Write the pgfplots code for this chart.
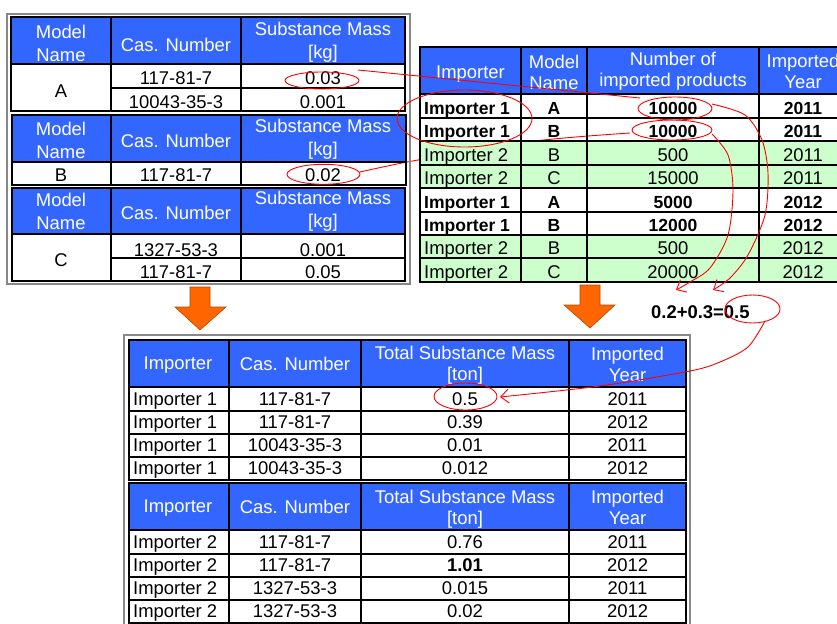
\documentclass[border=0pt]{standalone}
\usepackage{pgfplots}
\pgfplotsset{compat=1.18}
\usepackage{fontspec}
\setmainfont{Liberation Sans}
\usetikzlibrary{arrows.meta}
\definecolor{hblue}{HTML}{3366FF}
\definecolor{lgreen}{HTML}{CCFFCC}
\definecolor{aorange}{HTML}{FF6600}
\definecolor{ared}{HTML}{FF0000}
\definecolor{fgray}{HTML}{888888}

\newcommand{\fs}{\fontsize{18.5}{23}\selectfont}
\newcommand{\fsb}{\fontsize{17.6}{21}\selectfont\bfseries}
\newcommand{\fsr}{\fontsize{18.5}{21}\selectfont}

\tikzset{
  hd/.style={white, align=center, font=\fs, inner sep=0pt},
  hdr/.style={white, align=center, font=\fsr, inner sep=0pt},
  tx/.style={black, anchor=base, font=\fs, inner sep=0pt},
  txl/.style={tx, anchor=base west},
  txb/.style={tx, font=\fsb},
  gridl/.style={black, line width=1.2pt},
  frame/.style={black, line width=2.2pt},
  ell/.style={ared, line width=0.9pt},
  rl/.style={ared, line width=0.9pt, mark=none},
}

% right table row: baseline, style, importer, model, number, year
\newcommand{\rrow}[6]{%
  \node[#2, anchor=base west] at (424,#1) {#3};
  \node[#2] at (554,#1) {#4};
  \node[#2] at (673,#1) {#5};
  \node[#2] at (803,#1) {#6};
}
% bottom table row: baseline, importer, cas, mass, year
\newcommand{\brow}[5]{%
  \node[txl] at (133,#1) {#2};
  \node[tx] at (295,#1) {#3};
  \node[tx] at (465,#1) {#4};
  \node[tx] at (627.5,#1) {#5};
}

\begin{document}
\begin{tikzpicture}
\begin{axis}[
  width=837bp, height=624bp, scale only axis,
  xmin=0, xmax=837, ymin=0, ymax=624, y dir=reverse,
  hide axis, clip=true]

% ---- line from 0.02 (partly behind right table)
\addplot[rl, smooth] coordinates {(360,172) (418,160) (535,141) (630,133)};

% ================= LEFT GROUP =================
\draw[fgray, line width=1.2pt] (7,14) rectangle (410,284);

% Table A
\fill[hblue] (11,17) rectangle (405,64);
\draw[gridl] (111,17) -- (111,111) (241,17) -- (241,111) (11,64) -- (405,64) (111,88) -- (405,88);
\draw[frame] (11,17) rectangle (405,111);
\node[hd] at (61,43) {Model\\Name};
\node[hd] at (176,44.5) {Cas. Number};
\node[hd] at (323,42.5) {Substance Mass\\{}[kg]};
\node[tx] at (61,97) {A};
\node[tx] at (176,84.5) {117-81-7};
\node[tx] at (323,84.5) {0.03};
\node[tx] at (176,108.5) {10043-35-3};
\node[tx] at (323,108.5) {0.001};

% Table B
\fill[hblue] (12,115) rectangle (406,162);
\draw[gridl] (111,115) -- (111,185) (241,115) -- (241,185) (12,162) -- (406,162);
\draw[frame] (12,115) rectangle (406,185);
\node[hd] at (61,140) {Model\\Name};
\node[hd] at (176,140.5) {Cas. Number};
\node[hd] at (323,139.5) {Substance Mass\\{}[kg]};
\node[tx] at (61,181.5) {B};
\node[tx] at (176,181.5) {117-81-7};
\node[tx] at (323,181.5) {0.02};

% Table C
\fill[hblue] (12,188) rectangle (405,234);
\draw[gridl] (111,188) -- (111,281) (241,188) -- (241,281) (12,234) -- (405,234) (111,258) -- (405,258);
\draw[frame] (12,188) rectangle (405,281);
\node[hd] at (61,211.5) {Model\\Name};
\node[hd] at (176,212.5) {Cas. Number};
\node[hd] at (323,211) {Substance Mass\\{}[kg]};
\node[tx] at (61,266.5) {C};
\node[tx] at (176,256.5) {1327-53-3};
\node[tx] at (323,256.5) {0.001};
\node[tx] at (176,278) {117-81-7};
\node[tx] at (323,278) {0.05};

% ================= RIGHT TABLE =================
\fill[hblue] (420,47) rectangle (850,94);
\fill[lgreen] (420,141) rectangle (850,188);
\fill[lgreen] (420,235) rectangle (850,282);
\draw[gridl] (521,47) -- (521,282) (587,47) -- (587,282) (759,47) -- (759,282);
\draw[gridl] (420,94) -- (850,94) (420,118) -- (850,118) (420,141) -- (850,141)
  (420,165) -- (850,165) (420,188) -- (850,188) (420,212) -- (850,212)
  (420,235) -- (850,235) (420,258) -- (850,258);
\draw[frame] (420,47) rectangle (850,282);
\node[hdr] at (470.5,74.5) {Importer};
\node[hdr] at (554,72.5) {Model\\Name};
\node[hdr] at (673,71) {Number of\\imported products};
\node[hdr] at (803,71.5) {Imported\\Year};
\rrow{114.5}{txb}{Importer 1}{A}{10000}{2011}
\rrow{137.5}{txb}{Importer 1}{B}{10000}{2011}
\rrow{161.5}{tx}{Importer 2}{B}{500}{2011}
\rrow{184.5}{tx}{Importer 2}{C}{15000}{2011}
\rrow{208.5}{txb}{Importer 1}{A}{5000}{2012}
\rrow{231.5}{txb}{Importer 1}{B}{12000}{2012}
\rrow{254.5}{tx}{Importer 2}{B}{500}{2012}
\rrow{278.5}{tx}{Importer 2}{C}{20000}{2012}

% ================= ORANGE ARROWS =================
\filldraw[fill=aorange, draw=aorange!70!black, line width=0.6pt]
  (190,287) -- (210,287) -- (210,307) -- (226,307) -- (200,330) -- (175,307) -- (190,307) -- cycle;
\filldraw[fill=aorange, draw=aorange!70!black, line width=0.6pt]
  (580,285) -- (600,285) -- (600,305) -- (615,305) -- (590,328) -- (564,305) -- (580,305) -- cycle;

\node[tx, font=\fs\bfseries, anchor=base west] at (651,318) {0.2+0.3=0.5};

% ================= BOTTOM TABLES =================
\draw[fgray, line width=1.2pt] (124,640) -- (124,335) -- (690,335) -- (690,640);
% table 1
\fill[hblue] (129,340) rectangle (686,387);
\draw[gridl] (229,340) -- (229,480) (361,340) -- (361,480) (569,340) -- (569,480)
  (129,387) -- (686,387) (129,411) -- (686,411) (129,434) -- (686,434) (129,457) -- (686,457);
\draw[frame] (129,340) rectangle (686,480);
\node[hdr] at (178,365.5) {Importer};
\node[hdr] at (295,364) {Cas. Number};
\node[hdr] at (465,365) {Total Substance Mass\\{}[ton]};
\node[hdr] at (627.5,364) {Imported\\Year};
\brow{405}{Importer 1}{117-81-7}{0.5}{2011}
\brow{428}{Importer 1}{117-81-7}{0.39}{2012}
\brow{451}{Importer 1}{10043-35-3}{0.01}{2011}
\brow{474}{Importer 1}{10043-35-3}{0.012}{2012}
% table 2
\fill[hblue] (129,483) rectangle (686,530);
\draw[gridl] (229,483) -- (229,640) (361,483) -- (361,640) (569,483) -- (569,640)
  (129,530) -- (686,530) (129,554) -- (686,554) (129,577) -- (686,577) (129,600) -- (686,600);
\draw[frame] (129,483) rectangle (686,623);
\node[hdr] at (178,508.5) {Importer};
\node[hdr] at (295,507) {Cas. Number};
\node[hdr] at (465,509) {Total Substance Mass\\{}[ton]};
\node[hdr] at (627.5,507.5) {Imported\\Year};
\brow{548}{Importer 2}{117-81-7}{0.76}{2011}
\brow{571}{Importer 2}{117-81-7}{\textbf{1.01}}{2012}
\brow{594}{Importer 2}{1327-53-3}{0.015}{2011}
\brow{617}{Importer 2}{1327-53-3}{0.02}{2012}

% ================= RED ANNOTATIONS =================
\draw[ell] (322,80.5) ellipse [x radius=37, y radius=8.5];
\draw[ell] (323.5,174.3) ellipse [x radius=36.5, y radius=10];
\draw[ell] (464.5,118.5) ellipse [x radius=67.5, y radius=28.5];
\draw[ell] (675,108.5) ellipse [x radius=37, y radius=11.5];
\draw[ell] (672,130) ellipse [x radius=40, y radius=10];
\draw[ell] (752.5,309) ellipse [x radius=27.5, y radius=14];
\draw[ell] (465.5,396.5) ellipse [x radius=31.5, y radius=13.5];

\addplot[rl] coordinates {(358,70) (640,98)};
\addplot[rl, smooth, -{Straight Barb[length=8bp,width=14bp]}] coordinates
  {(712,104) (745,115) (762,140) (768,173) (765,215) (748,255) (730,278) (713,290)};
\addplot[rl, smooth, -{Straight Barb[length=8bp,width=14bp]}] coordinates
  {(712,134) (728,155) (733,190) (728,235) (710,268) (690,282) (676,290)};
\addplot[rl, smooth, -{Straight Barb[length=8bp,width=14bp]}] coordinates
  {(765,321) (748,347) (720,362) (690,371) (600,386) (500,397)};

\end{axis}
\pgfresetboundingbox
\useasboundingbox (current axis.south west) rectangle (current axis.north east);
\end{tikzpicture}
\end{document}
